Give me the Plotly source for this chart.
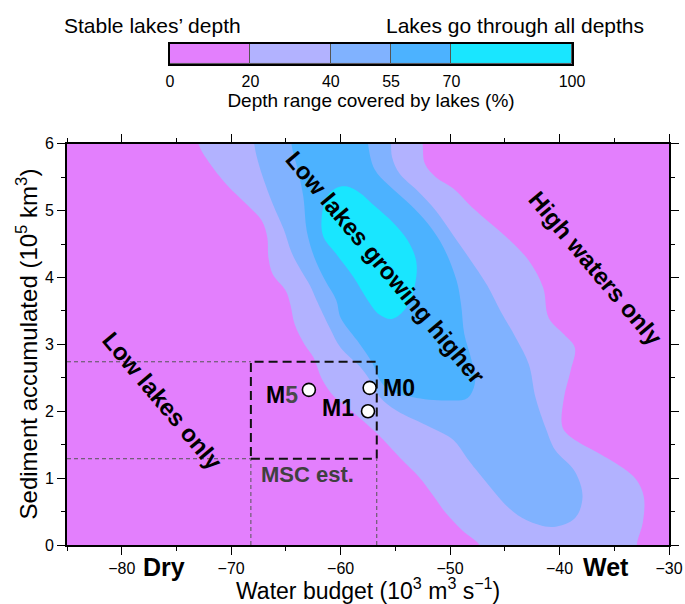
import plotly.graph_objects as go

FONT = "Liberation Sans, Arial, Helvetica, sans-serif"

# Depth-range classes (%) and their fill colours
levels = [0, 20, 40, 55, 70, 100]
level_colors = ["#e37ffd", "#b2b2ff", "#80b2ff", "#4cb2ff", "#19e6ff"]

# Contour outlines (water budget, sediment) of each depth-range class
lav_x = [-73.3, -73.0, -71.7, -70.3, -68.5, -67.2, -66.7, -66.6, -66.2, -65.0, -64.6, -64.2,
         -63.3, -62.5, -61.7, -60.6, -59.4, -56.7, -54.6, -52.8, -51.6, -50.5, -48.9, -47.3,
         -46.5, -33.2, -32.9, -32.4, -32.3, -33.0, -34.2, -36.5, -38.4, -39.7, -39.6, -39.0,
         -38.6, -39.6, -41.0, -41.5, -42.8, -44.5, -46.1, -48.0, -49.7, -51.3, -52.3, -52.5, -52.6]
lav_y = [6.4, 6.0, 5.65, 5.37, 5.08, 4.85, 4.6, 4.3, 4.05, 3.8, 3.6, 3.3,
         3.0, 2.81, 2.48, 2.22, 2.06, 1.67, 1.31, 1.01, 0.75, 0.50, 0.22, 0.0,
         -0.3, -0.3, 0.05, 0.33, 0.72, 0.98, 1.15, 1.38, 1.55, 1.75, 2.2, 2.6,
         2.95, 3.15, 3.4, 3.85, 4.25, 4.55, 4.78, 5.05, 5.33, 5.5, 5.7, 6.0, 6.4]

lbl_x = [-68.0, -67.9, -67.4, -66.2, -65.2, -64.5, -63.6, -62.8, -62.2, -61.0, -60.0, -58.2,
         -57.3, -56.4, -54.9, -51.8, -49.7, -48.5, -47.6, -46.1, -44.6, -43.0, -40.6, -38.6,
         -37.9, -38.6, -40.4, -41.2, -42.2, -42.8, -44.0, -45.4, -46.6, -48.3, -49.7, -51.3,
         -53.0, -54.6, -55.3, -55.4, -55.5]
lbl_y = [6.4, 6.0, 5.65, 5.10, 4.72, 4.38, 4.1, 3.88, 3.66, 3.25, 2.95, 2.66,
         2.46, 2.21, 2.01, 1.76, 1.57, 1.31, 1.12, 0.82, 0.55, 0.37, 0.27, 0.40,
         0.72, 1.10, 1.42, 1.72, 2.21, 2.70, 3.10, 3.50, 3.88, 4.30, 4.63, 5.00,
         5.30, 5.55, 5.8, 6.0, 6.4]

blu_x = [-64.6, -64.5, -63.9, -63.4, -63.1, -62.4, -61.4, -60.4, -60.0, -58.5, -57.1, -56.4,
         -55.5, -53.4, -50.3, -48.4, -47.7, -48.1, -48.7, -49.0, -49.4, -50.6, -52.0, -53.7,
         -55.6, -56.9, -57.5, -57.6]
blu_y = [6.4, 6.0, 5.6, 5.2, 4.7, 4.3, 3.95, 3.66, 3.40, 3.06, 2.72, 2.46,
         2.31, 2.21, 2.16, 2.20, 2.46, 2.80, 3.15, 3.6, 3.95, 4.45, 4.80, 5.10,
         5.38, 5.62, 6.0, 6.4]

cya_x = [-59.4, -58.2, -57.1, -55.2, -53.9, -53.1, -53.2, -54.0, -55.3, -56.5, -57.6, -58.8,
         -60.4, -61.6, -61.7, -61.2, -60.4, -59.4]
cya_y = [5.36, 5.26, 5.10, 4.82, 4.56, 4.25, 3.90, 3.55, 3.38, 3.45, 3.68, 4.00,
         4.35, 4.62, 4.95, 5.22, 5.34, 5.36]

# Model runs
site_names = ["M0", "M1", "M5"]
site_x = [-57.35, -57.5, -62.9]
site_y = [2.35, 2.0, 2.32]

# Messinian Salinity Crisis estimate box
msc_x = [-68.2, -56.7]
msc_y = [1.29, 2.74]

x_range = [-85, -30]
y_range = [0, 6]
y_domain = [0, 0.7657]

fig = go.Figure()

regions = [(lav_x, lav_y), (lbl_x, lbl_y), (blu_x, blu_y), (cya_x, cya_y)]
for (rx, ry), col in zip(regions, level_colors[1:]):
    fig.add_trace(go.Scatter(
        x=rx, y=ry, mode="lines", fill="toself", fillcolor=col,
        line=dict(width=0, shape="spline", smoothing=1.0, color=col),
        hoverinfo="skip", showlegend=False))

# thin guide lines from the axes to the MSC box
guide = dict(color="#555555", width=1, dash="4px,3px")
for yv in msc_y:
    fig.add_trace(go.Scatter(x=[x_range[0], msc_x[0]], y=[yv, yv], mode="lines",
                             line=guide, hoverinfo="skip", showlegend=False))
for xv in msc_x:
    fig.add_trace(go.Scatter(x=[xv, xv], y=[y_range[0], msc_y[0]], mode="lines",
                             line=guide, hoverinfo="skip", showlegend=False))

# MSC box
fig.add_trace(go.Scatter(
    x=[msc_x[0], msc_x[1], msc_x[1], msc_x[0], msc_x[0]],
    y=[msc_y[0], msc_y[0], msc_y[1], msc_y[1], msc_y[0]],
    mode="lines", line=dict(color="#111111", width=2, dash="9px,5px"),
    hoverinfo="skip", showlegend=False))

# model points
fig.add_trace(go.Scatter(
    x=site_x, y=site_y, mode="markers",
    marker=dict(size=13, color="white", line=dict(color="black", width=1.6)),
    hoverinfo="skip", showlegend=False))

# colour bar drawn as a stacked horizontal bar on its own axes
fig.add_trace(go.Bar(
    x=[levels[i + 1] - levels[i] for i in range(len(level_colors))],
    base=levels[:-1], y=[0] * len(level_colors), orientation="h", width=1,
    marker=dict(color=level_colors, line=dict(color="#555555", width=1)),
    xaxis="x2", yaxis="y2", hoverinfo="skip", showlegend=False))

ann = []
site_labels = {"M0": dict(xanchor="left", xshift=11, yshift=0),
               "M1": dict(xanchor="right", xshift=-12, yshift=3),
               "M5": dict(xanchor="right", xshift=-9, yshift=-5)}
for n, sx, sy in zip(site_names, site_x, site_y):
    txt = "M<span style='color:#4a4a4a'>5</span>" if n == "M5" else n
    ann.append(dict(x=sx, y=sy, xref="x", yref="y", text=f"<b>{txt}</b>", showarrow=False,
                    font=dict(size=23, color="black", family=FONT), yanchor="middle",
                    **site_labels[n]))

ann.append(dict(x=msc_x[0], y=1.06, xref="x", yref="y", text="<b>MSC est.</b>",
                showarrow=False, xanchor="left", xshift=8, yanchor="middle",
                font=dict(size=22, color="#404040", family=FONT)))

diag = [("Low lakes growing higher", -55.9, 4.15),
        ("High waters only", -36.7, 4.13),
        ("Low lakes only", -76.3, 2.16)]
for t, tx, ty in diag:
    ann.append(dict(x=tx, y=ty, xref="x", yref="y", text=f"<b>{t}</b>", showarrow=False,
                    textangle=50, font=dict(size=24, color="black", family=FONT)))

for t, tx in [("Dry", -76.1), ("Wet", -35.8)]:
    ann.append(dict(x=tx, y=-0.042, xref="x", yref="paper", text=f"<b>{t}</b>",
                    showarrow=False, yanchor="middle",
                    font=dict(size=25, color="black", family=FONT)))

# axis titles
ann.append(dict(x=0.5, y=-0.0838, xref="paper", yref="paper",
                text="Water budget (10<sup>3</sup> m<sup>3</sup> s<sup>−1</sup>)",
                showarrow=False, xanchor="center", yanchor="middle",
                font=dict(size=23, color="black", family=FONT)))
ann.append(dict(x=-0.0664, y=(y_domain[0] + y_domain[1]) / 2, xref="paper", yref="paper",
                text="Sediment accumulated (10<sup>5</sup> km<sup>3</sup>)", textangle=-90,
                showarrow=False, xanchor="center", yanchor="middle",
                font=dict(size=24, color="black", family=FONT)))

ann.append(dict(x=-0.008, y=0.992, xref="paper", yref="paper", text="Stable lakes’ depth",
                showarrow=False, xanchor="left", yanchor="middle",
                font=dict(size=21, color="black", family=FONT)))
ann.append(dict(x=0.961, y=0.992, xref="paper", yref="paper", text="Lakes go through all depths",
                showarrow=False, xanchor="right", yanchor="middle",
                font=dict(size=21, color="black", family=FONT)))

axis_common = dict(showline=True, linecolor="black", linewidth=2, mirror="ticks",
                   ticks="outside", ticklen=8, tickwidth=1, tickcolor="black",
                   showgrid=False, zeroline=False, automargin=False,
                   tickfont=dict(size=16, color="black", family=FONT))

fig.update_layout(
    width=685, height=604,
    margin=dict(l=67, r=16, t=21, b=59),
    paper_bgcolor="white", plot_bgcolor=level_colors[0],
    bargap=0, barmode="overlay",
    font=dict(family=FONT, color="black"),
    xaxis=dict(range=x_range, tick0=-80, dtick=10, domain=[0, 1],
               minor=dict(dtick=5, ticklen=4, ticks="outside", tickcolor="black", tickwidth=1),
               **axis_common),
    yaxis=dict(range=y_range, dtick=1, domain=y_domain,
               minor=dict(dtick=0.5, ticklen=4, ticks="outside", tickcolor="black", tickwidth=1),
               **axis_common),
    xaxis2=dict(range=[levels[0], levels[-1]], domain=[0.1711, 0.8389], anchor="y2",
                tickvals=levels, ticktext=[str(v) for v in levels],
                ticks="outside", ticklen=2, tickcolor="rgba(0,0,0,0)",
                showline=True, linecolor="black", linewidth=2, mirror=True,
                showgrid=False, zeroline=False, automargin=False,
                tickfont=dict(size=16, color="black", family=FONT),
                title=dict(text="Depth range covered by lakes (%)",
                           font=dict(size=19, family=FONT), standoff=2)),
    yaxis2=dict(range=[-0.5, 0.5], domain=[0.9181, 0.9562], anchor="x2",
                showticklabels=False, ticks="", showline=True, linecolor="black",
                linewidth=2, mirror=True, showgrid=False, zeroline=False, fixedrange=True,
                automargin=False),
    annotations=ann,
)

fig.write_html("out.html")
